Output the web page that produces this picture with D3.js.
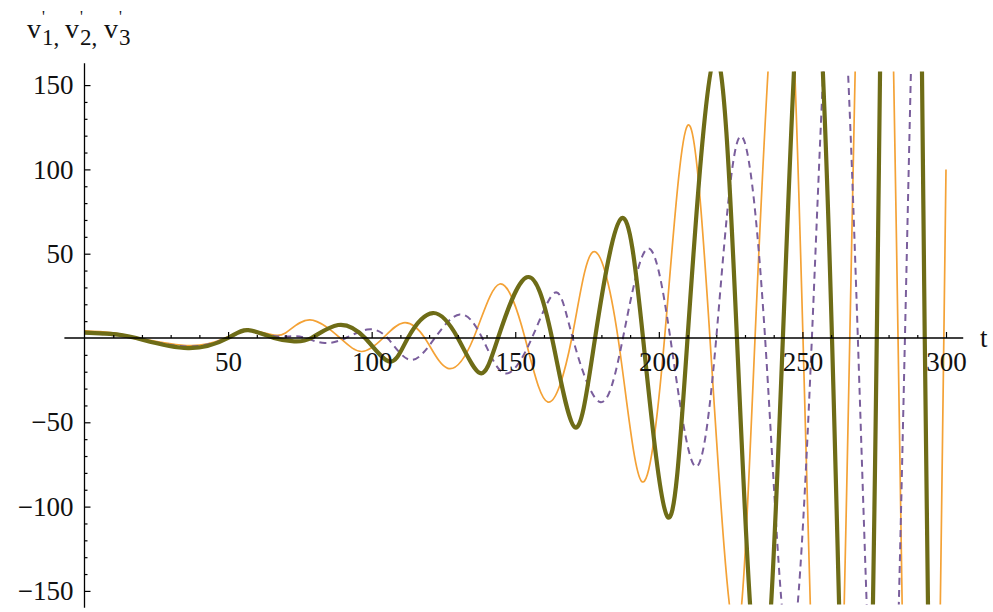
<!DOCTYPE html>
<html>
<meta charset="utf-8">
<style>
  body { margin: 0; background: #fff; }
  svg { width: 993px; height: 612px; display: block; background: #fff; }
  text { font-family: "Liberation Serif", "DejaVu Serif", serif; fill: #111; }
</style>
<body>
  <svg></svg>
</body>
<script src="https://cdn.jsdelivr.net/npm/d3@7"></script>
<script>
  var width = 993, height = 612;

  // v'1 : thin orange line (extrema and zero crossings)
  var t1 = [0, 9, 19, 37, 49, 56.5, 64, 70, 78.5, 89, 96.6, 104, 111, 118.5, 126.5, 135.5, 144.6, 153.4, 161.4, 169.7,
            177, 185.8, 194, 202, 210, 217.8, 226.5, 233.5, 242.7, 250.2, 258.7, 266.5, 274.9, 283.3, 291.6, 300];
  var v1 = [4.2, 3.2, 0, -4.5, 0, 4.2, 2.5, 3, 10.7, 0, -8, 0, 9, 0, -18, 0, 32, 0, -38, 0,
            51, 0, -85, 0, 126, 0, -177, 0, 252, 0, -395, 0, 510, 0, -660, 100];

  // v'2 : dashed purple line
  var t2 = [0, 17, 36, 49.5, 57, 65, 72, 77, 83.7, 91, 98.4, 105.5, 113.5, 122, 130.7, 138.5, 146.5, 155.8, 164, 170,
            179.5, 187.5, 196, 204, 212.5, 220, 228, 237, 245.2, 253.3, 261.3, 269.3, 278.2, 285.7, 294, 300];
  var v2 = [3, 0, -5, 0, 4.5, 1.5, 1, 0, -3, 0, 5, 0, -13, 0, 14, 0, -21, 0, 27, 0,
            -38, 0, 53, 0, -76, 0, 119, 0, -188, 0, 247, 0, -350, 0, 515, 350];

  // v'3 : thick olive line
  var t3 = [0, 9, 18, 36, 50, 57, 66, 73, 79, 88.3, 97.7, 106.4, 112.6, 121.3, 130, 137.7, 144, 154, 162.8, 170.8,
            177.8, 187, 194.5, 203, 210, 219.5, 227.2, 235.3, 243.2, 251.7, 260.3, 268.2, 275.9, 284.3, 292.6, 300];
  var v3 = [3.2, 2.5, 0, -6, 0, 4.7, 0, -2, 0, 7.7, 0, -14, 0, 14.8, 0, -20.8, 0, 36, 0, -53,
            0, 71, 0, -106, 0, 167, 0, -215, 0, 260, 0, -430, 0, 940, 0, -1040];

  var xTicks = [50, 100, 150, 200, 250, 300];
  var yTicks = [-150, -100, -50, 50, 100, 150];

  var svg = d3.select("svg").attr("viewBox", "0 0 " + width + " " + height);

  var x = d3.scaleLinear().domain([0, 300]).range([84.5, 946]);
  var y = d3.scaleLinear().domain([-158, 158]).range([604.4, 71.6]);

  svg.append("clipPath").attr("id", "clip")
    .append("rect")
    .attr("x", 0).attr("y", y(158))
    .attr("width", width).attr("height", y(-158) - y(158));

  var line = d3.line()
    .x(function(d) { return x(d[0]); })
    .y(function(d) { return y(d[1]); })
    .curve(d3.curveNatural);

  var plot = svg.append("g").attr("clip-path", "url(#clip)");

  plot.append("path")
    .datum(d3.zip(t1, v1))
    .attr("d", line)
    .attr("fill", "none")
    .attr("stroke", "#f4a236")
    .attr("stroke-width", 1.7);

  plot.append("path")
    .datum(d3.zip(t2, v2))
    .attr("d", line)
    .attr("fill", "none")
    .attr("stroke", "#7a5e9c")
    .attr("stroke-width", 2)
    .attr("stroke-dasharray", "7,5");

  plot.append("path")
    .datum(d3.zip(t3, v3))
    .attr("d", line)
    .attr("fill", "none")
    .attr("stroke", "#6e6c17")
    .attr("stroke-width", 4.2);

  // axes
  var minorX = d3.range(10, 301, 10).filter(function(d) { return d % 50 != 0; });
  var minorY = d3.range(-150, 151, 10).filter(function(d) { return d % 50 != 0; });

  var gx = svg.append("g").attr("transform", "translate(0," + y(0) + ")");
  gx.append("line")
    .attr("x1", x(-7)).attr("x2", x(306))
    .attr("stroke", "#000").attr("stroke-width", 1.3);
  gx.append("g").call(d3.axisBottom(x).tickValues(minorX).tickSize(-3).tickFormat(""));
  gx.append("g").call(d3.axisBottom(x).tickValues(xTicks).tickSize(-6).tickPadding(14));
  gx.selectAll(".domain").remove();

  var gy = svg.append("g").attr("transform", "translate(" + x(0) + ",0)");
  gy.append("line")
    .attr("y1", y(163)).attr("y2", y(-160))
    .attr("stroke", "#000").attr("stroke-width", 1.3);
  gy.append("g").call(d3.axisLeft(y).tickValues(minorY).tickSize(-3).tickFormat(""));
  gy.append("g").call(d3.axisLeft(y).tickValues(yTicks).tickSize(-6).tickPadding(11));
  gy.selectAll(".domain").remove();

  svg.selectAll(".tick line").attr("stroke", "#000").attr("stroke-width", 1.2);
  svg.selectAll(".tick text")
    .attr("font-size", null)
    .style("font-family", "'Liberation Serif', serif")
    .style("font-size", "27px")
    .attr("fill", "#111");

  // axis labels
  svg.append("text")
    .attr("x", 980).attr("y", 347)
    .style("font-size", "27px")
    .text("t");

  var ylab = svg.append("text").style("font-size", "28px");
  var vx = [27, 65, 104];
  ["1", "2", "3"].forEach(function(s, i) {
    ylab.append("tspan").attr("x", vx[i]).attr("y", 38).text("v");
    ylab.append("tspan").attr("x", vx[i] + 15).attr("y", 22).style("font-size", "16px").text("'");
    ylab.append("tspan").attr("x", vx[i] + 15).attr("y", 45).style("font-size", "23px").text(s + (i < 2 ? "," : ""));
  });
</script>
</html>
